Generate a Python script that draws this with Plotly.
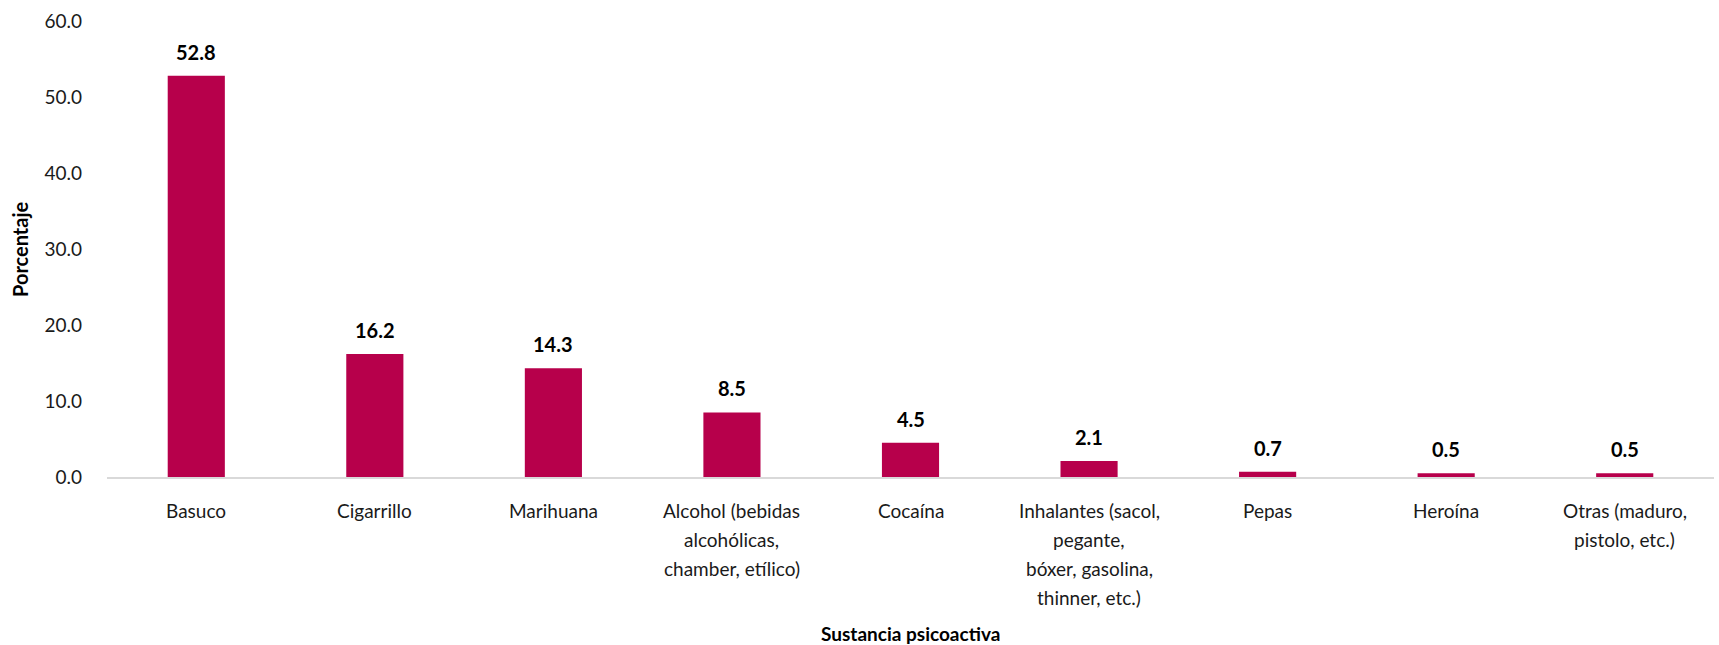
import plotly.graph_objects as go

categories = [
    "Basuco",
    "Cigarrillo",
    "Marihuana",
    "Alcohol (bebidas<br>alcohólicas,<br>chamber, etílico)",
    "Cocaína",
    "Inhalantes (sacol,<br>pegante,<br>bóxer, gasolina,<br>thinner, etc.)",
    "Pepas",
    "Heroína",
    "Otras (maduro,<br>pistolo, etc.)",
]
values = [52.8, 16.2, 14.3, 8.5, 4.5, 2.1, 0.7, 0.5, 0.5]
y_ticks = [0, 10, 20, 30, 40, 50, 60]

FONT = "Lato, Open Sans, sans-serif"
BAR_COLOR = "#B7004B"
TXT = "#1a1a1a"

fig = go.Figure()
fig.add_trace(go.Bar(
    x=categories,
    y=values,
    marker=dict(color=BAR_COLOR, line=dict(width=0)),
    hoverinfo="y",
))

annotations = []
for c, v in zip(categories, values):
    annotations.append(dict(
        x=c, y=v, xref="x", yref="y",
        text=f"<b>{v:.1f}</b>",
        showarrow=False, yanchor="bottom", yshift=10,
        font=dict(family=FONT, size=20, color="#000000"),
    ))
    # category labels, one annotation per line to match the line spacing
    for i, line in enumerate(c.split("<br>")):
        annotations.append(dict(
            x=c, y=0, xref="x", yref="y",
            text=line, showarrow=False,
            xanchor="center", yanchor="middle", yshift=-(33 + 29 * i),
            font=dict(family=FONT, size=19, color=TXT),
        ))
annotations.append(dict(
    x=0.5, y=0, xref="paper", yref="paper", yshift=-156,
    text="<b>Sustancia psicoactiva</b>", showarrow=False,
    xanchor="center", yanchor="middle",
    font=dict(family=FONT, size=19, color="#000000"),
))
annotations.append(dict(
    x=0, y=0.5, xref="paper", yref="paper", xshift=-87,
    text="<b>Porcentaje</b>", showarrow=False, textangle=-90,
    xanchor="center", yanchor="middle",
    font=dict(family=FONT, size=20, color="#000000"),
))

fig.update_layout(
    width=1719, height=645,
    margin=dict(l=107, r=5, t=21, b=168),
    paper_bgcolor="white", plot_bgcolor="white",
    bargap=0.68,
    showlegend=False,
    font=dict(family=FONT, size=19, color=TXT),
    annotations=annotations,
    xaxis=dict(
        showline=True, linecolor="#d9d9d9", linewidth=2,
        ticks="", showgrid=False, showticklabels=False,
    ),
    yaxis=dict(
        range=[0, 60], tickvals=y_ticks, tickformat=".1f",
        showline=False, showgrid=False, zeroline=False, ticks="",
        tickfont=dict(family=FONT, size=19, color=TXT),
        ticklabelstandoff=24,
    ),
)

fig.write_html(
    "out.html",
    config={"displayModeBar": False},
    post_script="document.body.style.margin='0';document.body.style.overflow='hidden';",
)
